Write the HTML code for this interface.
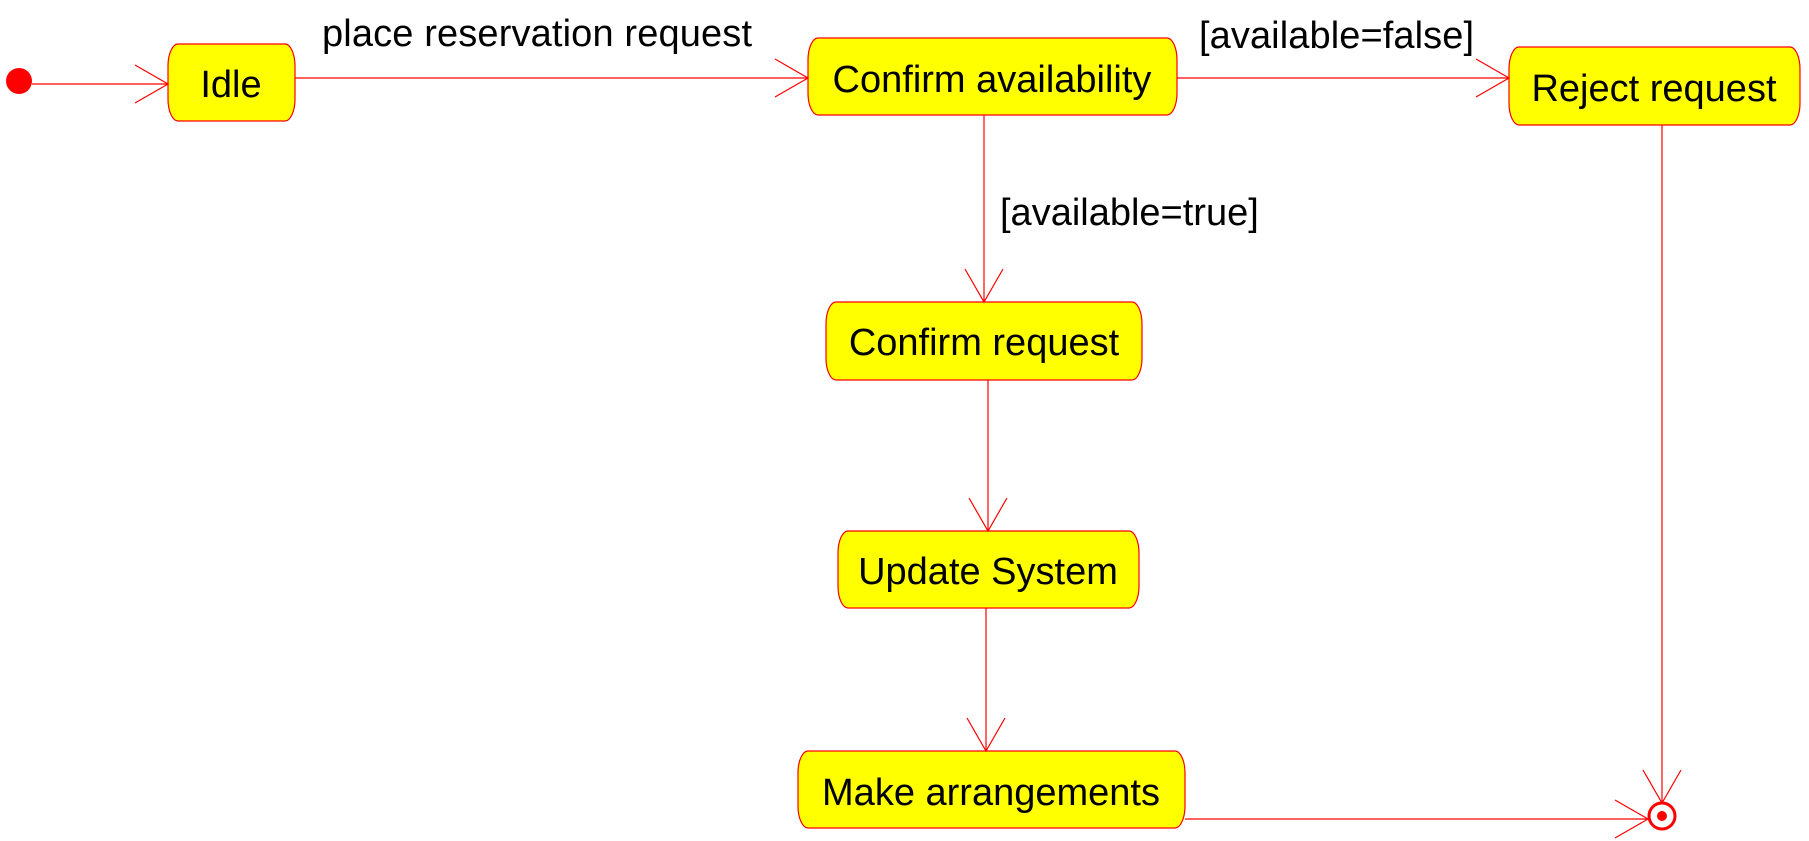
<!DOCTYPE html>
<html><head><style>
html,body{margin:0;padding:0;background:#fff;}
svg{display:block;}
text{font-family:"Liberation Sans",Arial,sans-serif;fill:#000;}
</style></head><body>
<svg width="1809" height="841" viewBox="0 0 1809 841" xmlns="http://www.w3.org/2000/svg">
<g fill="#ffff00" stroke="#ff0000" stroke-width="1.2">
<rect x="168" y="44" width="127" height="77" rx="10" ry="22"/>
<rect x="808" y="38" width="369" height="77" rx="10" ry="22"/>
<rect x="1509" y="47" width="291" height="78" rx="10" ry="22"/>
<rect x="826" y="302" width="316" height="78" rx="10" ry="22"/>
<rect x="838" y="531" width="301" height="77" rx="10" ry="22"/>
<rect x="798" y="751" width="387" height="77" rx="10" ry="22"/>
</g>
<circle cx="19" cy="81" r="13" fill="#ff0000"/>
<circle cx="1662" cy="816" r="13" fill="#fff" stroke="#ff0000" stroke-width="3"/>
<circle cx="1662" cy="816" r="5" fill="#ff0000"/>
<g stroke="#ff0000" stroke-width="1.2" fill="none">
<line x1="32" y1="84" x2="168" y2="84"/><polyline points="135,65 168,84 135,103"/>
<line x1="295" y1="78" x2="808" y2="78"/><polyline points="775,59 808,78 775,97"/>
<line x1="1177" y1="78" x2="1509" y2="78"/><polyline points="1476,59 1509,78 1476,97"/>
<line x1="984" y1="115" x2="984" y2="302"/><polyline points="965,269 984,302 1003,269"/>
<line x1="988" y1="380" x2="988" y2="531"/><polyline points="969,498 988,531 1007,498"/>
<line x1="986" y1="608" x2="986" y2="751"/><polyline points="967,718 986,751 1005,718"/>
<line x1="1662" y1="125" x2="1662" y2="803"/><polyline points="1643,770 1662,803 1681,770"/>
<line x1="1185" y1="819" x2="1648" y2="819"/><polyline points="1615,800 1648,819 1615,838"/>
</g>
<g font-size="38" text-anchor="middle">
<text x="231" y="97">Idle</text>
<text x="992" y="92">Confirm availability</text>
<text x="1654" y="101">Reject request</text>
<text x="984" y="355">Confirm request</text>
<text x="988" y="584">Update System</text>
<text x="991" y="805">Make arrangements</text>
</g>
<g font-size="38">
<text x="322" y="46" textLength="430" lengthAdjust="spacing">place reservation request</text>
<text x="1199" y="48" textLength="275" lengthAdjust="spacing">[available=false]</text>
<text x="1000" y="225">[available=true]</text>
</g>
</svg>
</body></html>
